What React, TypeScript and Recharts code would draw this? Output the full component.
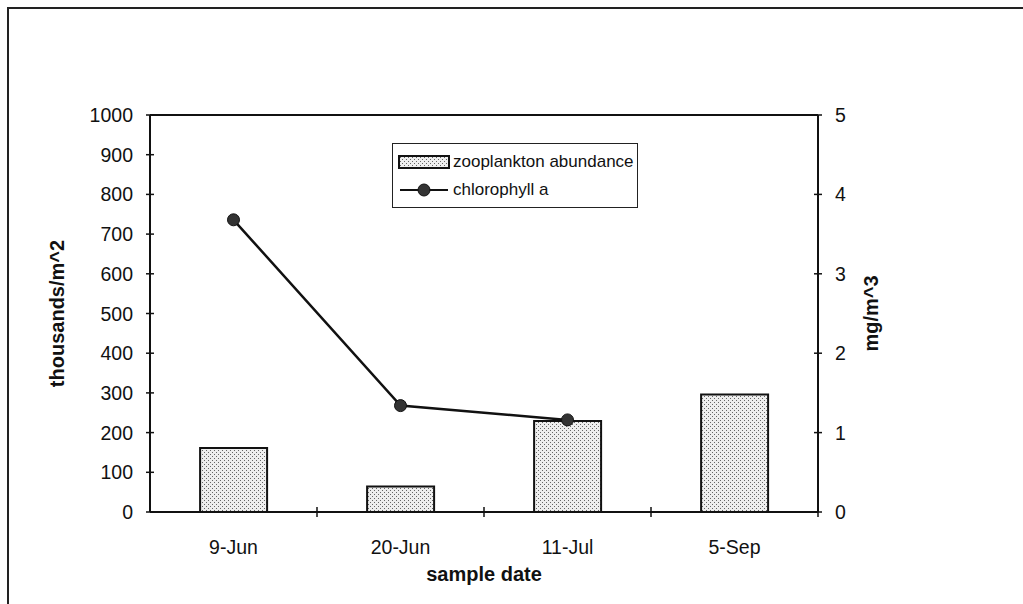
import { ComposedChart, Bar, Line, XAxis, YAxis, Legend, ReferenceLine } from "recharts";

const dates = ["9-Jun", "20-Jun", "11-Jul", "5-Sep"];
const zooplankton = [161, 64, 229, 296];
const chlorophyll: (number | null)[] = [3.68, 1.34, 1.16, null];
const leftTicks = [0, 100, 200, 300, 400, 500, 600, 700, 800, 900, 1000];
const rightTicks = [0, 1, 2, 3, 4, 5];

const data = dates.map((d, i) => ({
  date: d,
  zoo: zooplankton[i],
  chl: chlorophyll[i],
}));

const FONT = '"Liberation Sans", Arial, sans-serif';
const INK = "#111";
const TICK_FS = 19.5;

function LeftTick(props: any) {
  const { x, y, payload } = props;
  const axisX = x + 17;
  return (
    <g>
      <line x1={axisX} x2={axisX + 4} y1={y} y2={y} stroke={INK} strokeWidth={1.5} />
      <text x={x} y={y} dy={7} textAnchor="end" fontSize={TICK_FS} fill={INK} fontFamily={FONT}>
        {payload.value}
      </text>
    </g>
  );
}

function RightTick(props: any) {
  const { x, y, payload } = props;
  const axisX = x - 17;
  return (
    <g>
      <line x1={axisX - 4} x2={axisX} y1={y} y2={y} stroke={INK} strokeWidth={1.5} />
      <text x={x} y={y} dy={7} textAnchor="start" fontSize={TICK_FS} fill={INK} fontFamily={FONT}>
        {payload.value}
      </text>
    </g>
  );
}

function DateTick(props: any) {
  const { x, y, payload, index, visibleTicksCount } = props;
  const axisY = y - 28;
  const half = payload.offset ?? 0;
  return (
    <g>
      {index > 0 && (
        <line x1={x - half} x2={x - half} y1={axisY - 5} y2={axisY + 5} stroke={INK} strokeWidth={1.5} />
      )}
      {index === visibleTicksCount - 1 && (
        <line x1={x + half} x2={x + half} y1={axisY - 5} y2={axisY + 5} stroke={INK} strokeWidth={1.5} />
      )}
      <text x={x} y={y} dy={14} textAnchor="middle" fontSize={TICK_FS} fill={INK} fontFamily={FONT}>
        {payload.value}
      </text>
    </g>
  );
}

function LegendBox() {
  return (
    <div
      style={{
        border: "1.5px solid #222",
        width: 246,
        height: 65,
        boxSizing: "border-box",
        fontFamily: FONT,
        fontSize: 17,
        color: INK,
        background: "#fff",
        padding: "4px 0 0 5px",
        whiteSpace: "nowrap",
        lineHeight: "20px",
      }}
    >
      <div style={{ display: "flex", alignItems: "center", height: 28 }}>
        <svg width={52} height={14} style={{ marginRight: 3, flexShrink: 0 }}>
          <rect x={1} y={1} width={50} height={12} fill="url(#stipple)" stroke={INK} strokeWidth={2} />
        </svg>
        <span>zooplankton abundance</span>
      </div>
      <div style={{ display: "flex", alignItems: "center", height: 28 }}>
        <svg width={52} height={14} style={{ marginRight: 3, flexShrink: 0 }}>
          <line x1={2} x2={50} y1={7} y2={7} stroke={INK} strokeWidth={2} />
          <circle cx={26} cy={7} r={6} fill="#333" stroke={INK} strokeWidth={1} />
        </svg>
        <span>chlorophyll a</span>
      </div>
    </div>
  );
}

export default function App() {
  return (
    <div style={{ position: "absolute", left: 0, top: 0, width: 1023, height: 604, overflow: "hidden", background: "#fff" }}>
      <div
        style={{
          position: "absolute",
          left: 7,
          top: 7,
          width: 1100,
          height: 700,
          borderTop: "2px solid #222",
          borderLeft: "2px solid #222",
        }}
      />
      <ComposedChart
        width={1023}
        height={604}
        data={data}
        margin={{ top: 115, right: 125, bottom: 20, left: 30 }}
        barCategoryGap="30%"
        style={{ position: "absolute", left: 0, top: 0, fontFamily: FONT }}
      >
        <defs>
          <pattern id="stipple" width="4" height="4" patternUnits="userSpaceOnUse">
            <rect width="4" height="4" fill="#eeeeee" />
            <rect x="0" y="0" width="1" height="1" fill="#666" />
            <rect x="2" y="2" width="1" height="1" fill="#666" />
          </pattern>
        </defs>
        <XAxis
          dataKey="date"
          height={72}
          tickLine={false}
          tickSize={0}
          tickMargin={28}
          axisLine={{ stroke: INK, strokeWidth: 2 }}
          tick={<DateTick />}
          interval={0}
          label={{
            value: "sample date",
            position: "insideBottom",
            offset: 3,
            style: { fontWeight: "bold", fontSize: 20, fill: INK, fontFamily: FONT },
          }}
        />
        <YAxis
          yAxisId="left"
          width={120}
          domain={[0, 1000]}
          ticks={leftTicks}
          interval={0}
          tickSize={4}
          tickMargin={13}
          tickLine={{ stroke: INK, strokeWidth: 1.5 }}
          axisLine={{ stroke: INK, strokeWidth: 2 }}
          tick={<LeftTick />}
          label={{
            value: "thousands/m^2",
            angle: -90,
            position: "insideLeft",
            offset: 27,
            style: { textAnchor: "middle", fontWeight: "bold", fontSize: 20, fill: INK, fontFamily: FONT },
          }}
        />
        <YAxis
          yAxisId="right"
          orientation="right"
          width={80}
          domain={[0, 5]}
          ticks={rightTicks}
          interval={0}
          tickSize={4}
          tickMargin={13}
          tickLine={{ stroke: INK, strokeWidth: 1.5 }}
          axisLine={{ stroke: INK, strokeWidth: 2 }}
          tick={<RightTick />}
          label={{
            value: "mg/m^3",
            angle: -90,
            position: "insideRight",
            offset: 27,
            style: { textAnchor: "middle", fontWeight: "bold", fontSize: 20, fill: INK, fontFamily: FONT },
          }}
        />
        <ReferenceLine yAxisId="left" y={1000} stroke={INK} strokeWidth={2} />
        <Legend
          layout="vertical"
          align="center"
          verticalAlign="middle"
          content={() => <LegendBox />}
          wrapperStyle={{ left: 392, top: 143, width: 246 }}
        />
        <Bar
          yAxisId="left"
          dataKey="zoo"
          name="zooplankton abundance"
          fill="url(#stipple)"
          stroke={INK}
          strokeWidth={2}
          isAnimationActive={false}
        />
        <Line
          yAxisId="right"
          dataKey="chl"
          name="chlorophyll a"
          stroke={INK}
          strokeWidth={2.5}
          dot={{ r: 6, fill: "#333", stroke: INK, strokeWidth: 1 }}
          activeDot={false}
          isAnimationActive={false}
        />
      </ComposedChart>
    </div>
  );
}
